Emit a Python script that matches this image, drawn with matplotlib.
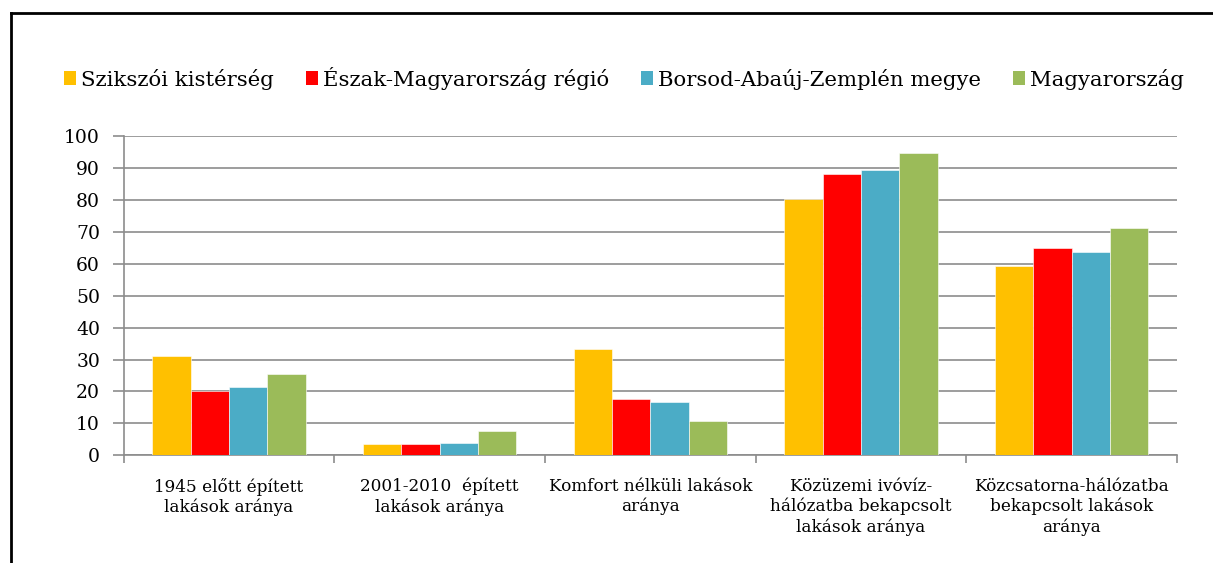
import matplotlib
matplotlib.use("Agg")
import matplotlib.pyplot as plt
import numpy as np
from matplotlib.lines import Line2D
from matplotlib.patches import Patch

categories = ["1945 előtt épített\nlakások aránya",
              "2001-2010  épített\nlakások aránya",
              "Komfort nélküli lakások\naránya",
              "Közüzemi ivóvíz-\nhálózatba bekapcsolt\nlakások aránya",
              "Közcsatorna-hálózatba\nbekapcsolt lakások\naránya"]
series_names = ["Szikszói kistérség", "Észak-Magyarország régió",
                "Borsod-Abaúj-Zemplén megye", "Magyarország"]
szikszoi = [31.1, 3.5, 33.2, 80.3, 59.2]
eszak = [20.1, 3.5, 17.5, 88.2, 65.0]
baz = [21.3, 3.9, 16.8, 89.5, 63.6]
magyar = [25.4, 7.6, 10.6, 94.6, 71.1]
yticks = list(range(0, 101, 10))

colors = ["#FFC000", "#FF0000", "#4BACC6", "#9BBB59"]
values = [szikszoi, eszak, baz, magyar]

W, H, DPI = 1213, 563, 100
fig = plt.figure(figsize=(W / DPI, H / DPI), dpi=DPI)
left, right, top, bottom = 123.7, 1177, 136, 455.3
ax = fig.add_axes([left / W, 1 - bottom / H, (right - left) / W, (bottom - top) / H])

font = "DejaVu Serif"
n = len(series_names)
bw = 1 / (n + 1.5)
x = np.arange(len(categories))
for i, (vals, c) in enumerate(zip(values, colors)):
    ax.bar(x + (i - (n - 1) / 2) * bw, vals, width=bw, color=c,
           edgecolor="white", linewidth=0.4, zorder=3)

ax.set_xlim(-0.5, len(categories) - 0.5)
ax.set_ylim(0, 100)
ax.set_yticks(yticks)
ax.set_yticklabels([str(t) for t in yticks], family=font, fontsize=13.5)
ax.yaxis.grid(True, color="#8c8c8c", linewidth=1.2, zorder=0)
ax.set_axisbelow(True)

ax.set_xticks(np.arange(-0.5, len(categories), 1.0))
ax.set_xticklabels([])
ax.set_xticks(x, minor=True)
ax.set_xticklabels(categories, minor=True, family=font, fontsize=12.2,
                   linespacing=1.25)
ax.tick_params(axis="x", which="minor", length=0, pad=16)
ax.tick_params(axis="x", which="major", length=6, color="#8c8c8c", width=1.2)
ax.tick_params(axis="y", length=8, color="#8c8c8c", width=1.2, pad=9)

for s in ["top", "right"]:
    ax.spines[s].set_visible(False)
for s in ["left", "bottom"]:
    ax.spines[s].set_color("#8c8c8c")
    ax.spines[s].set_linewidth(1.2)

handles = [Patch(facecolor=c, edgecolor="none") for c in colors]
fig.legend(handles, series_names, loc="center", ncol=4,
           bbox_to_anchor=(624 / W, 1 - 78 / H), frameon=False,
           prop={"family": font, "size": 15.3}, handlelength=0.55,
           handleheight=0.6, handletextpad=0.25, columnspacing=1.5)

fig.add_artist(Line2D([11 / W, 11 / W], [0, 1 - 13 / H], color="black",
                      linewidth=2, transform=fig.transFigure))
fig.add_artist(Line2D([11 / W, 1], [1 - 13 / H, 1 - 13 / H], color="black",
                      linewidth=2, transform=fig.transFigure))

fig.savefig("out.png", dpi=DPI)
